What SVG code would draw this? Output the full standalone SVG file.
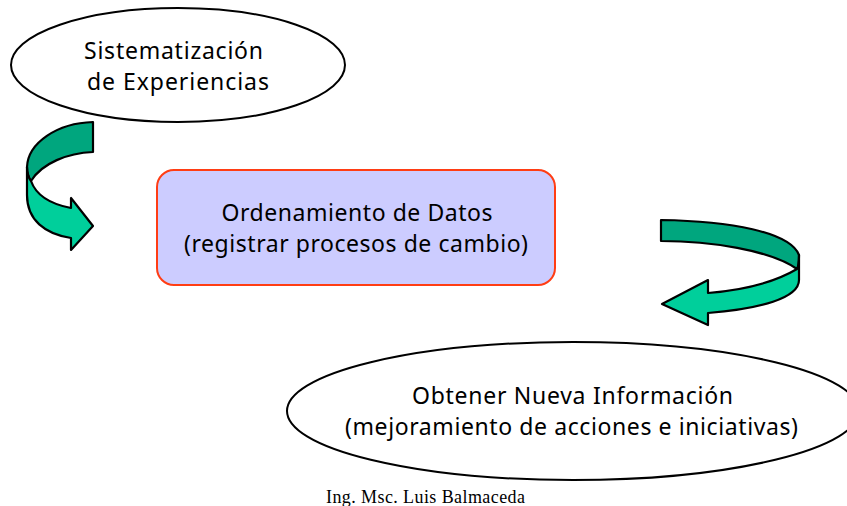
<svg xmlns="http://www.w3.org/2000/svg" width="847" height="506" viewBox="0 0 847 506">
<style>
text{font-family:"Noto Sans","DejaVu Sans",sans-serif;font-size:23px;fill:#000;text-anchor:middle}
.n{fill:#fff;stroke:#000;stroke-width:2}
.d{fill:#00a67e;stroke:#000;stroke-width:2.2;stroke-linejoin:round}
.l{fill:#00cf9b;stroke:#000;stroke-width:2.2;stroke-linejoin:round}
.f{font-family:"Liberation Serif",serif;font-size:18px;text-anchor:start}
</style>
<rect width="847" height="506" fill="#fff"/>
<g id="connectors">
<g id="arrow-left">
<path class="d" d="M93,122V152C68,153 42,163 31,181C28,177 27,172 27,167C28,143 57,123 93,122Z"/>
<path class="l" d="M27,167V195C27,220 45,234 71,238V250L93,226L71,198V208C50,204 36,195 31,181C28,177 27,172 27,167Z"/>
</g>
<g id="arrow-right">
<path class="d" d="M661,220V241C710,241 770,250 797,269C799,266 799,260 799,255C790,232 730,221 661,220Z"/>
<path class="l" d="M797,269C775,282 745,290 708,293V280L662,304L708,325V313C760,309 799,298 799,280V255C799,260 799,266 797,269Z"/>
</g>
</g>
<g id="node-sistematizacion">
<ellipse class="n" cx="178" cy="65" rx="167" ry="57"/>
<text x="173.5" y="59" textLength="179" lengthAdjust="spacing">Sistematización</text>
<text x="178" y="90" textLength="182" lengthAdjust="spacing">de Experiencias</text>
</g>
<g id="node-ordenamiento">
<rect x="157" y="170" width="398" height="115" rx="17" fill="#ccf" stroke="#ff3d14" stroke-width="2"/>
<text x="357" y="221" textLength="271" lengthAdjust="spacing">Ordenamiento de Datos</text>
<text x="356" y="252" textLength="344" lengthAdjust="spacing">(registrar procesos de cambio)</text>
</g>
<g id="node-informacion">
<ellipse class="n" cx="573" cy="411" rx="286" ry="69"/>
<text x="572.5" y="404" textLength="321" lengthAdjust="spacing">Obtener Nueva Información</text>
<text x="571.5" y="435" textLength="453" lengthAdjust="spacing">(mejoramiento de acciones e iniciativas)</text>
</g>
<text class="f" x="326" y="503" textLength="199">Ing. Msc. Luis Balmaceda</text>
</svg>
